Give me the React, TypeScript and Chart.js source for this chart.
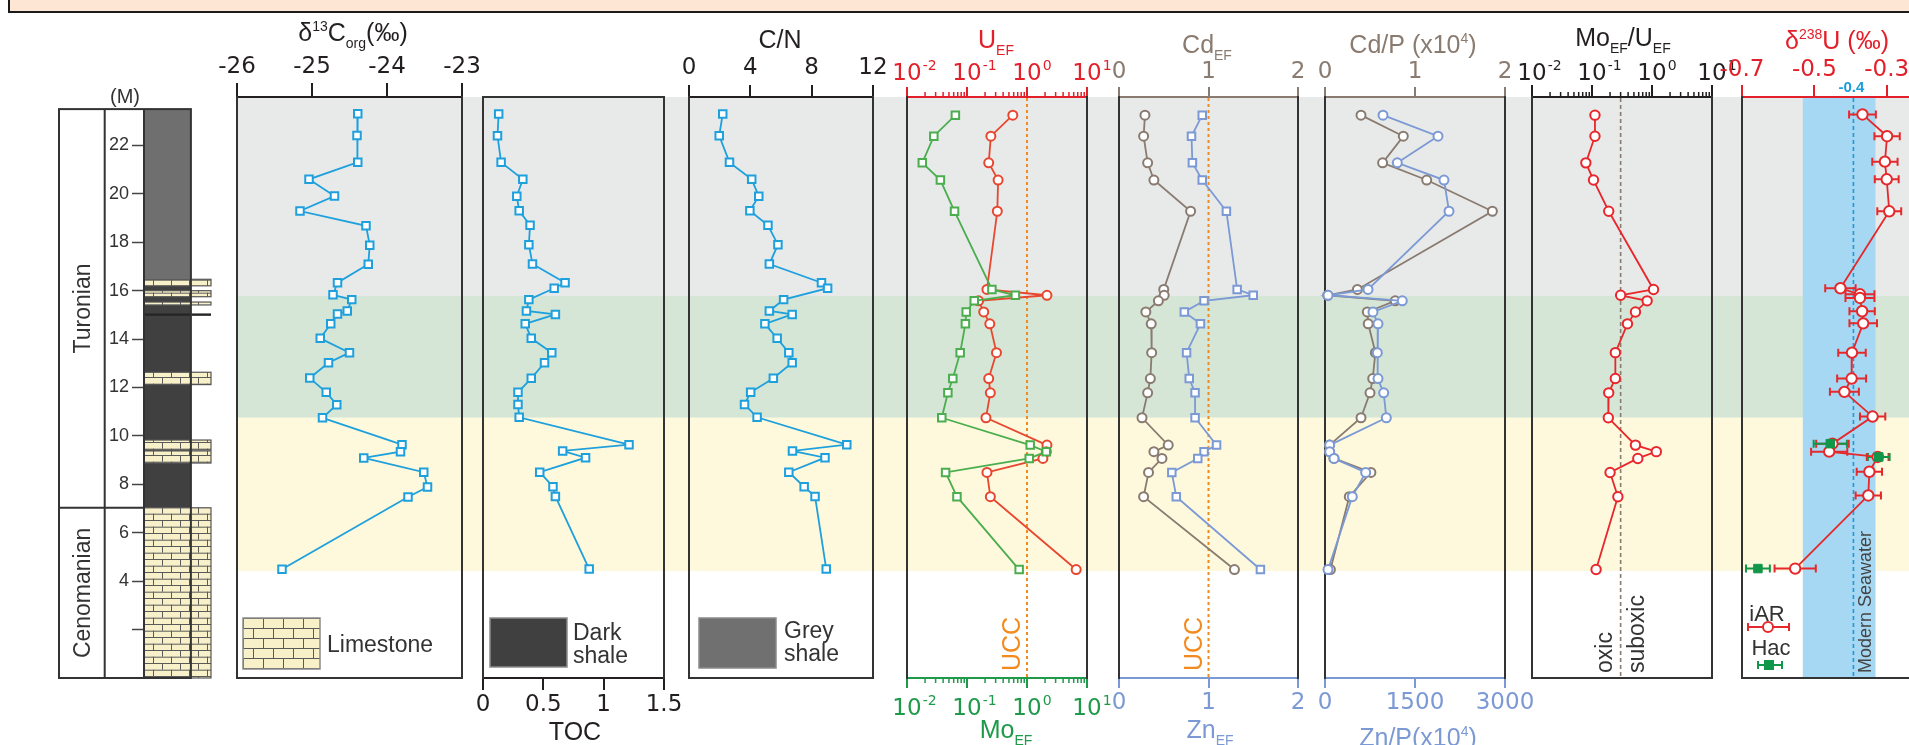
import React, { useEffect, useRef } from "react";
import { Chart, registerables } from "chart.js";

Chart.register(...registerables);

/* ---------------- layout constants ---------------- */
const W = 1909;
const H = 745;
const PLOT_TOP = 97;
const PLOT_BOTTOM = 678;
const DEPTH_MIN = 0;
const DEPTH_MAX = 24;
const PADX = 60;

const SANS = "'Liberation Sans', Arial, Helvetica, sans-serif";
const NUM = "'DejaVu Sans', 'Liberation Sans', sans-serif";
const FRAME = "#333333";
const AX_BLACK = "#231f20";

const C_BLUE = "#1ea0dd";
const C_URED = "#e8472f";
const C_UAX = "#e3202a";
const C_MO = "#4aad4e";
const C_MOAX = "#1e9a4a";
const C_BROWN = "#8a7b70";
const C_ZN = "#7b99d4";
const C_MOU = "#e8262b";
const C_D238 = "#e5282b";
const C_HAC = "#12964a";
const C_UCC = "#f28a1e";
const C_SEA = "#a6d8f3";
const C_SEALINE = "#1b9bd8";

/* ---------------- data ---------------- */
// depth axis of the lithological column (m)
const depthTicks = [2, 4, 6, 8, 10, 12, 14, 16, 18, 20, 22];
const depthLabels = ["", "4", "6", "8", "10", "12", "14", "16", "18", "20", "22"];

// shaded intervals behind the profiles
const bandFrom = [15.78, 10.75, 4.42];
const bandTo = [24, 15.78, 10.75];
const bandColors = ["#e8eaea", "#d5e6d6", "#fef9dc"];

// lithology beds
const bedFrom = [16.5, 7.03, 16.2, 15.75, 15.41, 14.96, 12.12, 9.42, 8.88, 0];
const bedTo = [23.5, 16.5, 16.47, 16.0, 15.53, 15.06, 12.63, 9.83, 9.38, 7.03];
const bedKind = ["grey", "dark", "lime", "lime", "lime", "darkline", "lime", "lime", "lime", "lime"];

const stageNames = ["Turonian", "Cenomanian"];
const stageFrom = [7.03, 0];
const stageTo = [23.5, 7.03];

// organic geochemistry (29 samples)
const d13CDepth = [23.31, 22.41, 21.3, 20.6, 19.91, 19.29, 18.68, 17.88, 17.09, 16.33, 15.83, 15.63, 15.16, 15.04, 14.63, 14.03, 13.44, 13.02, 12.39, 11.8, 11.29, 10.75, 9.64, 9.35, 9.09, 8.5, 7.89, 7.48, 4.49];
const d13C = [-24.39, -24.4, -24.39, -25.04, -24.7, -25.16, -24.28, -24.23, -24.25, -24.66, -24.72, -24.47, -24.53, -24.66, -24.75, -24.89, -24.5, -24.78, -25.03, -24.81, -24.67, -24.86, -23.8, -23.82, -24.31, -23.51, -23.46, -23.72, -25.4];
const orgDepth = [23.3, 22.4, 21.3, 20.6, 19.9, 19.3, 18.7, 17.9, 17.1, 16.33, 16.1, 15.63, 15.16, 15.02, 14.63, 14.03, 13.44, 13.02, 12.38, 11.8, 11.3, 10.77, 9.64, 9.38, 9.1, 8.5, 7.9, 7.5, 4.5];
const toc = [0.13, 0.12, 0.15, 0.33, 0.28, 0.3, 0.39, 0.38, 0.41, 0.68, 0.59, 0.38, 0.36, 0.6, 0.35, 0.4, 0.57, 0.51, 0.4, 0.29, 0.29, 0.3, 1.21, 0.66, 0.85, 0.47, 0.58, 0.6, 0.88];
const cn = [2.2, 1.97, 2.64, 4.09, 4.55, 3.97, 5.15, 5.8, 5.24, 8.64, 9.04, 6.17, 5.24, 6.73, 4.95, 5.75, 6.51, 6.73, 5.5, 4.02, 3.62, 4.44, 10.29, 6.75, 8.87, 6.51, 7.51, 8.22, 8.95];

// trace metals (20 samples)
const tmDepth = [23.25, 22.38, 21.28, 20.57, 19.28, 16.05, 15.81, 15.58, 15.12, 14.63, 13.44, 12.37, 11.78, 10.75, 9.62, 9.35, 9.07, 8.49, 7.49, 4.48];
const uEF = [0.58, 0.25, 0.23, 0.33, 0.32, 0.215, 2.15, 0.156, 0.19, 0.24, 0.31, 0.23, 0.245, 0.207, 2.15, 2.1, 1.84, 0.215, 0.245, 6.6];
const moEF = [0.064, 0.028, 0.018, 0.036, 0.062, 0.26, 0.64, 0.132, 0.097, 0.094, 0.077, 0.058, 0.048, 0.038, 1.13, 2.09, 1.09, 0.044, 0.068, 0.74];
const cdEF = [0.29, 0.275, 0.32, 0.39, 0.8, 0.5, 0.505, 0.44, 0.3, 0.36, 0.365, 0.35, 0.32, 0.257, 0.55, 0.39, 0.48, 0.33, 0.275, 1.29];
const znEF = [0.93, 0.81, 0.82, 0.93, 1.2, 1.32, 1.5, 0.95, 0.73, 0.91, 0.755, 0.785, 0.85, 0.85, 1.09, 0.95, 0.88, 0.59, 0.64, 1.58];
const cdP = [0.4, 0.87, 0.64, 1.13, 1.86, 0.36, 0.03, 0.78, 0.47, 0.48, 0.56, 0.53, 0.5, 0.4, 0.05, 0.05, 0.1, 0.51, 0.27, 0.06];
const znP = [967, 1883, 1205, 1983, 2067, 717, 50, 1288, 800, 883, 872, 883, 978, 1022, 78, 78, 150, 678, 455, 50];
const moU = [0.112, 0.112, 0.079, 0.106, 0.19, 1.06, 0.3, 0.83, 0.53, 0.39, 0.245, 0.245, 0.19, 0.187, 0.53, 1.18, 0.58, 0.2, 0.27, 0.117];

// uranium isotopes
const uDepth = [23.28, 22.38, 21.33, 20.6, 19.28, 16.1, 15.85, 15.7, 15.15, 14.65, 13.44, 12.37, 11.82, 10.8, 9.68, 9.35, 9.13, 8.52, 7.54, 4.52];
const d238U = [-0.367, -0.299, -0.305, -0.3, -0.293, -0.428, -0.374, -0.374, -0.368, -0.365, -0.396, -0.397, -0.417, -0.339, -0.45, -0.459, -0.325, -0.348, -0.351, -0.553];
const d238UErr = [0.037, 0.035, 0.035, 0.033, 0.033, 0.042, 0.04, 0.04, 0.035, 0.038, 0.038, 0.04, 0.04, 0.035, 0.045, 0.05, 0.03, 0.035, 0.035, 0.057];
const hacDepth = [9.68, 9.13, 4.52];
const hacU = [-0.456, -0.322, -0.656];
const hacErr = [0.046, 0.03, 0.033];

// reference values
const UCC = 1;
const MOU_LIMIT = 0.3;
const SEAWATER_U = -0.392;
const seawaterRange = [-0.532, -0.331];

// tick values & labels
const d13CTicks = [-26, -25, -24, -23];
const d13CLabels = ["-26", "-25", "-24", "-23"];
const tocTicks = [0, 0.5, 1, 1.5];
const tocLabels = ["0", "0.5", "1", "1.5"];
const cnTicks = [0, 4, 8, 12];
const cnLabels = ["0", "4", "8", "12"];
const logTicks = [0.01, 0.1, 1, 10];
const logExp = ["-2", "-1", "0", "1"];
const efTicks = [0, 1, 2];
const efLabels = ["0", "1", "2"];
const znPTicks = [0, 1500, 3000];
const znPLabels = ["0", "1500", "3000"];
const uTicks = [-0.7, -0.5, -0.3];
const uLabels = ["-0.7", "-0.5", "-0.3"];

const logMinor: number[] = [];
for (let e = -2; e < 1; e++) for (let m = 2; m <= 9; m++) logMinor.push(m * Math.pow(10, e));

/* ---------------- drawing helpers ---------------- */
type Seg = { t: string; k?: "sup" | "sub" };

function drawRich(ctx: any, segs: Seg[], x: number, y: number, size: number, color: string, align = "center") {
  const small = Math.round(size * 0.56);
  const font = (s: Seg) => `${s.k ? small : size}px ${SANS}`;
  const widths = segs.map((s) => {
    ctx.font = font(s);
    return ctx.measureText(s.t).width;
  });
  const total = widths.reduce((a, b) => a + b, 0);
  let cx = align === "center" ? x - total / 2 : x;
  ctx.save();
  ctx.fillStyle = color;
  ctx.textAlign = "left";
  ctx.textBaseline = "alphabetic";
  segs.forEach((s, i) => {
    ctx.font = font(s);
    const dy = s.k === "sup" ? -size * 0.42 : s.k === "sub" ? size * 0.26 : 0;
    ctx.fillText(s.t, cx, y + dy);
    cx += widths[i];
  });
  ctx.restore();
}

function drawText(ctx: any, text: string, x: number, y: number, size: number, color: string, opts: any = {}) {
  ctx.save();
  ctx.translate(x, y);
  if (opts.rot) ctx.rotate(-Math.PI / 2);
  ctx.font = `${opts.weight || ""} ${size}px ${opts.family || SANS}`;
  ctx.fillStyle = color;
  ctx.textAlign = opts.align || "left";
  ctx.textBaseline = "alphabetic";
  ctx.fillText(text, 0, 0);
  ctx.restore();
}

function vline(ctx: any, x: number, ca: any, color: string, dash: number[], width: number) {
  ctx.save();
  ctx.strokeStyle = color;
  ctx.lineWidth = width;
  ctx.setLineDash(dash);
  ctx.beginPath();
  ctx.moveTo(x, ca.top + 1);
  ctx.lineTo(x, ca.bottom - 1);
  ctx.stroke();
  ctx.restore();
}

function errorBars(ctx: any, sx: any, sy: any, depths: number[], vals: number[], errs: number[], color: string) {
  ctx.save();
  ctx.strokeStyle = color;
  ctx.lineWidth = 2;
  ctx.setLineDash([]);
  ctx.beginPath();
  depths.forEach((d, i) => {
    const y = sy.getPixelForValue(d);
    const a = sx.getPixelForValue(vals[i] - errs[i]);
    const b = sx.getPixelForValue(vals[i] + errs[i]);
    ctx.moveTo(a, y);
    ctx.lineTo(b, y);
    ctx.moveTo(a, y - 4);
    ctx.lineTo(a, y + 4);
    ctx.moveTo(b, y - 4);
    ctx.lineTo(b, y + 4);
  });
  ctx.stroke();
  ctx.restore();
}

function brickPattern(ctx: any, rowH: number, brickW: number, ox: number, oy: number) {
  const c = document.createElement("canvas");
  c.width = brickW;
  c.height = rowH * 2;
  const g = c.getContext("2d") as CanvasRenderingContext2D;
  g.fillStyle = "#f7f0c8";
  g.fillRect(0, 0, c.width, c.height);
  g.strokeStyle = "#5a5a5a";
  g.lineWidth = 1;
  g.beginPath();
  g.moveTo(0, 0.5);
  g.lineTo(brickW, 0.5);
  g.moveTo(0, rowH + 0.5);
  g.lineTo(brickW, rowH + 0.5);
  g.moveTo(0.5, 0);
  g.lineTo(0.5, rowH);
  g.moveTo(brickW / 2 + 0.5, rowH);
  g.lineTo(brickW / 2 + 0.5, rowH * 2);
  g.stroke();
  const p = ctx.createPattern(c, "repeat");
  if (p && p.setTransform) p.setTransform(new DOMMatrix().translate(ox, oy));
  return p;
}

function legendBox(ctx: any, x: number, y: number, w: number, h: number, fill: any) {
  ctx.save();
  ctx.fillStyle = fill;
  ctx.fillRect(x, y, w, h);
  ctx.strokeStyle = "#8a8a8a";
  ctx.lineWidth = 1.5;
  ctx.strokeRect(x, y, w, h);
  ctx.restore();
}

/* ---------------- panel machinery ---------------- */
type AxisSpec = {
  log?: boolean;
  min: number;
  max: number;
  ticks: number[];
  labels: string[];
  color: string;
  tickLen: number;
  pad: number;
  base?: number;
};

type PanelSpec = {
  left: number;
  right: number;
  top?: AxisSpec;
  bottom?: AxisSpec;
  datasets: any[];
  back?: (ctx: any, chart: any, X: (p: number) => number) => void;
  front?: (ctx: any, chart: any, X: (p: number) => number) => void;
};

function profile(depths: number[], values: number[], color: string, shape: string, axis: string, radius?: number) {
  return {
    data: depths.map((d, i) => ({ x: values[i], y: d })),
    xAxisID: axis,
    yAxisID: "y",
    showLine: true,
    borderColor: color,
    borderWidth: 1.8,
    pointStyle: shape,
    pointRadius: radius ?? (shape === "rect" ? 5.3 : 4.5),
    pointBorderColor: color,
    pointBackgroundColor: "#ffffff",
    pointBorderWidth: 2,
    clip: false,
  };
}

function axisOptions(a: AxisSpec, position: string, height: number) {
  return {
    type: a.log ? "logarithmic" : "linear",
    position,
    min: a.min,
    max: a.max,
    afterBuildTicks: (s: any) => {
      s.ticks = a.ticks.map((v) => ({ value: v }));
    },
    afterFit: (s: any) => {
      s.height = height;
    },
    grid: {
      display: true,
      drawOnChartArea: false,
      drawTicks: true,
      tickLength: a.tickLen,
      tickColor: a.color,
      tickWidth: 2,
      color: a.color,
      lineWidth: 2,
    },
    border: { display: true, color: a.color, width: 2 },
    ticks: {
      display: !a.log,
      autoSkip: false,
      maxRotation: 0,
      minRotation: 0,
      padding: a.pad,
      color: a.color,
      font: { family: NUM, size: 23 },
      callback: (_v: any, i: number) => a.labels[i],
    },
  };
}

function drawLogAxis(ctx: any, scale: any, a: AxisSpec, pos: string, ca: any) {
  const edge = pos === "top" ? ca.top : ca.bottom;
  const dir = pos === "top" ? -1 : 1;
  ctx.save();
  ctx.strokeStyle = a.color;
  ctx.lineWidth = 1.5;
  ctx.beginPath();
  logMinor.forEach((v) => {
    const x = scale.getPixelForValue(v);
    ctx.moveTo(x, edge);
    ctx.lineTo(x, edge + dir * 5);
  });
  ctx.stroke();
  ctx.fillStyle = a.color;
  ctx.textBaseline = "alphabetic";
  a.ticks.forEach((v, i) => {
    const x = scale.getPixelForValue(v);
    ctx.font = `23px ${NUM}`;
    ctx.textAlign = "center";
    ctx.fillText("10", x, a.base as number);
    const w = ctx.measureText("10").width;
    ctx.font = `14px ${NUM}`;
    ctx.textAlign = "left";
    ctx.fillText(a.labels[i], x + w / 2 + 1, (a.base as number) - 10);
  });
  ctx.restore();
}

function panelConfig(spec: PanelSpec, canvasLeft: number) {
  const X = (p: number) => p - canvasLeft;
  const scales: any = { y: { type: "linear", min: DEPTH_MIN, max: DEPTH_MAX, display: false } };
  if (spec.top) scales.xt = axisOptions(spec.top, "top", PLOT_TOP);
  if (spec.bottom) scales.xb = axisOptions(spec.bottom, "bottom", H - PLOT_BOTTOM);
  const plugin = {
    id: "panelDeco",
    beforeDatasetsDraw(chart: any) {
      const { ctx, chartArea: ca } = chart;
      ctx.save();
      if (spec.back) spec.back(ctx, chart, X);
      ctx.strokeStyle = FRAME;
      ctx.lineWidth = 2;
      ctx.setLineDash([]);
      ctx.beginPath();
      ctx.moveTo(ca.left, ca.top - 1);
      ctx.lineTo(ca.left, ca.bottom + 1);
      ctx.moveTo(ca.right, ca.top - 1);
      ctx.lineTo(ca.right, ca.bottom + 1);
      if (!spec.top) {
        ctx.moveTo(ca.left - 1, ca.top);
        ctx.lineTo(ca.right + 1, ca.top);
      }
      if (!spec.bottom) {
        ctx.moveTo(ca.left - 1, ca.bottom);
        ctx.lineTo(ca.right + 1, ca.bottom);
      }
      ctx.stroke();
      ctx.restore();
    },
    afterDraw(chart: any) {
      const { ctx, chartArea: ca } = chart;
      if (spec.top && spec.top.log) drawLogAxis(ctx, chart.scales.xt, spec.top, "top", ca);
      if (spec.bottom && spec.bottom.log) drawLogAxis(ctx, chart.scales.xb, spec.bottom, "bottom", ca);
      ctx.save();
      if (spec.front) spec.front(ctx, chart, X);
      ctx.restore();
    },
  };
  return {
    type: "scatter",
    data: { datasets: spec.datasets },
    options: {
      animation: false,
      responsive: false,
      maintainAspectRatio: false,
      events: [],
      layout: {
        autoPadding: false,
        padding: { left: PADX, right: PADX, top: spec.top ? 0 : PLOT_TOP, bottom: spec.bottom ? 0 : H - PLOT_BOTTOM },
      },
      plugins: { legend: { display: false }, tooltip: { enabled: false } },
      scales,
    },
    plugins: [plugin],
  };
}

/* ---------------- panels ---------------- */
const panels: PanelSpec[] = [
  {
    left: 237,
    right: 462,
    top: { min: -26, max: -23, ticks: d13CTicks, labels: d13CLabels, color: AX_BLACK, tickLen: 14, pad: 2.5 },
    datasets: [profile(d13CDepth, d13C, C_BLUE, "rect", "xt")],
    front: (ctx, chart, X) => {
      drawRich(ctx, [{ t: "δ" }, { t: "13", k: "sup" }, { t: "C" }, { t: "org", k: "sub" }, { t: "(‰)" }], X(353), 41, 25, AX_BLACK);
      legendBox(ctx, X(243), 618, 77, 51, brickPattern(ctx, 10, 20, X(243), 618));
      drawText(ctx, "Limestone", X(327), 652, 23, "#333");
    },
  },
  {
    left: 483,
    right: 664,
    bottom: { min: 0, max: 1.5, ticks: tocTicks, labels: tocLabels, color: AX_BLACK, tickLen: 12, pad: 1.7 },
    datasets: [profile(orgDepth, toc, C_BLUE, "rect", "xb")],
    front: (ctx, chart, X) => {
      drawRich(ctx, [{ t: "TOC" }], X(575), 740, 25, AX_BLACK);
      legendBox(ctx, X(490), 618, 77, 49, "#404040");
      drawText(ctx, "Dark", X(573), 640, 23, "#333");
      drawText(ctx, "shale", X(573), 663, 23, "#333");
    },
  },
  {
    left: 689,
    right: 873,
    top: { min: 0, max: 12, ticks: cnTicks, labels: cnLabels, color: AX_BLACK, tickLen: 12, pad: 3.2 },
    datasets: [profile(orgDepth, cn, C_BLUE, "rect", "xt")],
    front: (ctx, chart, X) => {
      drawRich(ctx, [{ t: "C/N" }], X(780), 48, 25, AX_BLACK);
      legendBox(ctx, X(699), 618, 77, 50, "#707070");
      drawText(ctx, "Grey", X(784), 638, 23, "#333");
      drawText(ctx, "shale", X(784), 661, 23, "#333");
    },
  },
  {
    left: 907,
    right: 1087,
    top: { log: true, min: 0.01, max: 10, ticks: logTicks, labels: logExp, color: C_UAX, tickLen: 10, pad: 0, base: 79.5 },
    bottom: { log: true, min: 0.01, max: 10, ticks: logTicks, labels: logExp, color: C_MOAX, tickLen: 10, pad: 0, base: 714.5 },
    datasets: [profile(tmDepth, moEF, C_MO, "rect", "xb"), profile(tmDepth, uEF, C_URED, "circle", "xt")],
    back: (ctx, chart) => vline(ctx, chart.scales.xt.getPixelForValue(UCC), chart.chartArea, C_UCC, [3, 3], 2),
    front: (ctx, chart, X) => {
      const u = chart.scales.xt.getPixelForValue(UCC);
      drawText(ctx, "UCC", u - 6.7, 644, 25, C_UCC, { rot: true, align: "center" });
      drawRich(ctx, [{ t: "U" }, { t: "EF", k: "sub" }], X(996), 48, 25, C_UAX);
      drawRich(ctx, [{ t: "Mo" }, { t: "EF", k: "sub" }], X(1006), 738, 25, C_MOAX);
    },
  },
  {
    left: 1119,
    right: 1298,
    top: { min: 0, max: 2, ticks: efTicks, labels: efLabels, color: C_BROWN, tickLen: 10, pad: 0.7 },
    bottom: { min: 0, max: 2, ticks: efTicks, labels: efLabels, color: C_ZN, tickLen: 10, pad: 1.2 },
    datasets: [profile(tmDepth, znEF, C_ZN, "rect", "xb"), profile(tmDepth, cdEF, C_BROWN, "circle", "xt")],
    back: (ctx, chart) => vline(ctx, chart.scales.xt.getPixelForValue(UCC), chart.chartArea, C_UCC, [3, 3], 2),
    front: (ctx, chart, X) => {
      const u = chart.scales.xt.getPixelForValue(UCC);
      drawText(ctx, "UCC", u - 6.7, 644, 25, C_UCC, { rot: true, align: "center" });
      drawRich(ctx, [{ t: "Cd" }, { t: "EF", k: "sub" }], X(1207), 53, 25, C_BROWN);
      drawRich(ctx, [{ t: "Zn" }, { t: "EF", k: "sub" }], X(1210), 738, 25, C_ZN);
    },
  },
  {
    left: 1325,
    right: 1505,
    top: { min: 0, max: 2, ticks: efTicks, labels: efLabels, color: C_BROWN, tickLen: 10, pad: 0.7 },
    bottom: { min: 0, max: 3000, ticks: znPTicks, labels: znPLabels, color: C_ZN, tickLen: 10, pad: 1.2 },
    datasets: [profile(tmDepth, znP, C_ZN, "circle", "xb"), profile(tmDepth, cdP, C_BROWN, "circle", "xt")],
    front: (ctx, chart, X) => {
      drawRich(ctx, [{ t: "Cd/P (x10" }, { t: "4", k: "sup" }, { t: ")" }], X(1413), 53, 25, C_BROWN);
      drawRich(ctx, [{ t: "Zn/P(x10" }, { t: "4", k: "sup" }, { t: ")" }], X(1418), 746, 25, C_ZN);
    },
  },
  {
    left: 1532,
    right: 1712,
    top: { log: true, min: 0.01, max: 10, ticks: logTicks, labels: logExp, color: AX_BLACK, tickLen: 12, pad: 0, base: 79.5 },
    datasets: [profile(tmDepth, moU, C_MOU, "circle", "xt", 4.7)],
    back: (ctx, chart) => vline(ctx, chart.scales.xt.getPixelForValue(MOU_LIMIT), chart.chartArea, C_BROWN, [4, 3], 1.6),
    front: (ctx, chart, X) => {
      const t = chart.scales.xt.getPixelForValue(MOU_LIMIT);
      drawText(ctx, "oxic", t - 8.3, 673, 23, "#333", { rot: true });
      drawText(ctx, "suboxic", t + 23.3, 673, 23, "#333", { rot: true });
      drawRich(ctx, [{ t: "Mo" }, { t: "EF", k: "sub" }, { t: "/U" }, { t: "EF", k: "sub" }], X(1623), 46, 25, AX_BLACK);
    },
  },
  {
    left: 1742,
    right: 1941,
    top: { min: -0.7, max: -0.15, ticks: uTicks, labels: uLabels, color: C_UAX, tickLen: 12, pad: 1.2 },
    datasets: [
      {
        data: hacDepth.map((d, i) => ({ x: hacU[i], y: d })),
        xAxisID: "xt",
        yAxisID: "y",
        showLine: false,
        pointStyle: "rect",
        pointRadius: 6,
        pointBorderColor: C_HAC,
        pointBackgroundColor: C_HAC,
        pointBorderWidth: 1,
        clip: false,
      },
      profile(uDepth, d238U, C_D238, "circle", "xt", 5.2),
    ],
    back: (ctx, chart) => {
      const ca = chart.chartArea;
      const sx = chart.scales.xt;
      const sy = chart.scales.y;
      const x1 = sx.getPixelForValue(seawaterRange[0]);
      const x2 = sx.getPixelForValue(seawaterRange[1]);
      ctx.fillStyle = C_SEA;
      ctx.fillRect(x1, ca.top + 1, x2 - x1, ca.bottom - ca.top - 1);
      vline(ctx, sx.getPixelForValue(SEAWATER_U), ca, C_SEALINE, [4, 3], 1.6);
      errorBars(ctx, sx, sy, uDepth, d238U, d238UErr, C_D238);
      errorBars(ctx, sx, sy, hacDepth, hacU, hacErr, C_HAC);
    },
    front: (ctx, chart, X) => {
      const sx = chart.scales.xt;
      const s = sx.getPixelForValue(SEAWATER_U);
      drawText(ctx, "-0.4", s - 2, 92, 15, C_SEALINE, { align: "center", weight: "bold" });
      drawText(ctx, "Modern Seawater", s + 17.4, 673, 18, "#444", { rot: true });
      drawRich(ctx, [{ t: "δ" }, { t: "238", k: "sup" }, { t: "U (‰)" }], X(1837), 49, 25, C_UAX);
      // legend
      drawText(ctx, "iAR", X(1767), 621, 22, "#333", { align: "center" });
      ctx.save();
      ctx.strokeStyle = C_D238;
      ctx.lineWidth = 2;
      ctx.beginPath();
      ctx.moveTo(X(1748), 627);
      ctx.lineTo(X(1789), 627);
      ctx.moveTo(X(1748), 623);
      ctx.lineTo(X(1748), 631);
      ctx.moveTo(X(1789), 623);
      ctx.lineTo(X(1789), 631);
      ctx.stroke();
      ctx.fillStyle = "#fff";
      ctx.beginPath();
      ctx.arc(X(1768), 627, 5, 0, Math.PI * 2);
      ctx.fill();
      ctx.stroke();
      ctx.restore();
      drawText(ctx, "Hac", X(1771), 655, 22, "#333", { align: "center" });
      ctx.save();
      ctx.strokeStyle = C_HAC;
      ctx.lineWidth = 2;
      ctx.beginPath();
      ctx.moveTo(X(1758), 665);
      ctx.lineTo(X(1782), 665);
      ctx.moveTo(X(1758), 661);
      ctx.lineTo(X(1758), 669);
      ctx.moveTo(X(1782), 661);
      ctx.lineTo(X(1782), 669);
      ctx.stroke();
      ctx.fillStyle = C_HAC;
      ctx.fillRect(X(1769) - 5, 660, 10, 10);
      ctx.restore();
    },
  },
];

/* ---------------- background & lithology ---------------- */
function bandsConfig() {
  return {
    type: "scatter",
    data: { datasets: [] },
    options: {
      animation: false,
      responsive: false,
      maintainAspectRatio: false,
      events: [],
      layout: { autoPadding: false, padding: { left: 0, right: 0, top: PLOT_TOP, bottom: H - PLOT_BOTTOM } },
      plugins: { legend: { display: false }, tooltip: { enabled: false } },
      scales: {
        x: { type: "linear", min: 0, max: 1, display: false },
        y: { type: "linear", min: DEPTH_MIN, max: DEPTH_MAX, display: false },
      },
    },
    plugins: [
      {
        id: "bands",
        beforeDraw(chart: any) {
          const { ctx, chartArea: ca, scales } = chart;
          const y = scales.y;
          bandFrom.forEach((f, i) => {
            const y1 = y.getPixelForValue(bandTo[i]);
            const y2 = y.getPixelForValue(f);
            ctx.fillStyle = bandColors[i];
            ctx.fillRect(ca.left, y1, ca.right - ca.left, y2 - y1);
          });
        },
      },
    ],
  };
}

const lithoPlugin = {
  id: "litho",
  afterDraw(chart: any) {
    const { ctx, scales } = chart;
    const x = scales.x;
    const y = scales.y;
    const colL = 59;
    const stageR = 104.7;
    const depthR = x.getPixelForValue(0);
    const shaleR = x.getPixelForValue(0.7);
    const limeR = x.getPixelForValue(1);
    const pat = brickPattern(ctx, 6.7, 18, depthR, 0);
    ctx.save();
    bedFrom.forEach((f, i) => {
      const k = bedKind[i];
      const y1 = y.getPixelForValue(bedTo[i]);
      const y2 = y.getPixelForValue(f);
      const xr = k === "lime" || k === "darkline" ? limeR : shaleR;
      ctx.fillStyle = k === "lime" ? pat : k === "grey" ? "#6f6f6f" : k === "dark" ? "#404040" : "#262626";
      ctx.fillRect(depthR, y1, xr - depthR, y2 - y1);
      if (k === "lime") {
        ctx.strokeStyle = "#555";
        ctx.lineWidth = 1.2;
        ctx.strokeRect(depthR, y1, xr - depthR, y2 - y1);
      }
    });
    const top = y.getPixelForValue(stageTo[0]);
    const bot = y.getPixelForValue(0);
    ctx.strokeStyle = "#333";
    ctx.lineWidth = 2;
    ctx.strokeRect(colL, top, shaleR - colL, bot - top);
    ctx.beginPath();
    ctx.moveTo(stageR, top);
    ctx.lineTo(stageR, bot);
    ctx.moveTo(depthR, top);
    ctx.lineTo(depthR, bot);
    stageFrom.forEach((f) => {
      if (f > 0) {
        const yb = y.getPixelForValue(f);
        ctx.moveTo(colL, yb);
        ctx.lineTo(depthR, yb);
      }
    });
    ctx.stroke();
    ctx.restore();
    stageNames.forEach((n, i) => {
      const mid = (y.getPixelForValue(stageFrom[i]) + y.getPixelForValue(stageTo[i])) / 2;
      drawText(ctx, n, 90, mid, 23, "#333", { rot: true, align: "center" });
    });
    drawText(ctx, "(M)", 125, 103, 20, "#333", { align: "center" });
  },
};

function lithoConfig() {
  return {
    type: "scatter",
    data: { datasets: [] },
    options: {
      animation: false,
      responsive: false,
      maintainAspectRatio: false,
      events: [],
      layout: { autoPadding: false, padding: { left: 104, right: 26, top: PLOT_TOP, bottom: H - PLOT_BOTTOM } },
      plugins: { legend: { display: false }, tooltip: { enabled: false } },
      scales: {
        x: { type: "linear", min: 0, max: 1, display: false },
        y: {
          type: "linear",
          min: DEPTH_MIN,
          max: DEPTH_MAX,
          position: "left",
          afterFit: (s: any) => {
            s.width = 40;
          },
          afterBuildTicks: (s: any) => {
            s.ticks = depthTicks.map((v) => ({ value: v }));
          },
          grid: { drawOnChartArea: false, drawTicks: true, tickLength: 12, tickColor: "#444", tickWidth: 1.5 },
          border: { display: false },
          ticks: {
            padding: 3,
            color: "#333",
            font: { family: SANS, size: 18 },
            callback: (_v: any, i: number) => depthLabels[i],
          },
        },
      },
    },
    plugins: [lithoPlugin],
  };
}

/* ---------------- components ---------------- */
function ChartBox({ left, width, make }: { left: number; width: number; make: () => any }) {
  const ref = useRef<HTMLCanvasElement>(null);
  useEffect(() => {
    const chart = new Chart(ref.current as HTMLCanvasElement, make());
    return () => chart.destroy();
  }, []);
  return (
    <canvas
      ref={ref}
      width={width}
      height={H}
      style={{ position: "absolute", left, top: 0, width, height: H }}
    />
  );
}

export default function App() {
  return (
    <div style={{ position: "fixed", left: 0, top: 0, width: W, height: H, overflow: "hidden", background: "#ffffff" }}>
      <div
        style={{
          position: "absolute",
          left: 8,
          top: -12,
          width: 2000,
          height: 25,
          background: "#fde6d4",
          border: "2.5px solid #1a1a1a",
          boxSizing: "border-box",
        }}
      />
      <ChartBox left={237} width={W - 237} make={bandsConfig} />
      <ChartBox left={0} width={237} make={lithoConfig} />
      {panels.map((p, i) => (
        <ChartBox key={i} left={p.left - PADX} width={p.right - p.left + 2 * PADX} make={() => panelConfig(p, p.left - PADX)} />
      ))}
    </div>
  );
}
